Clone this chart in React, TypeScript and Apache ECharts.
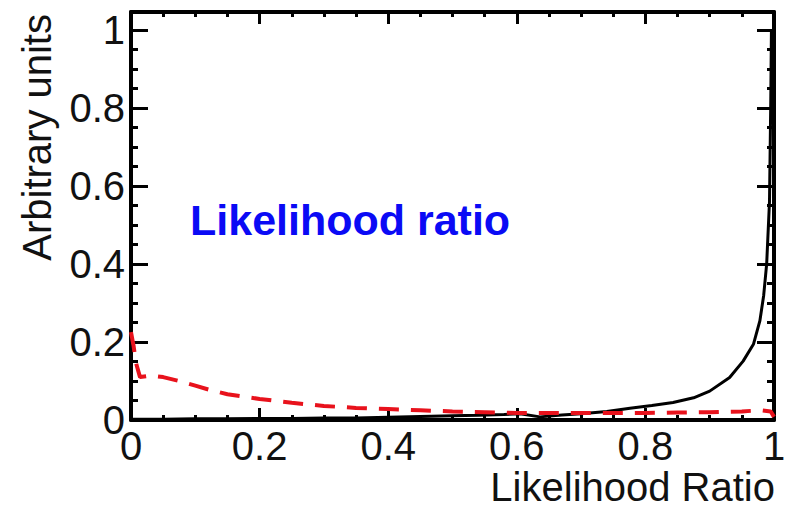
import React, { useEffect, useRef } from "react";
import * as echarts from "echarts";

// Signal (black solid) distribution
const signalX = [0, 0.05, 0.1, 0.15, 0.2, 0.25, 0.3, 0.35, 0.4, 0.45, 0.5, 0.54, 0.58, 0.605, 0.636, 0.67, 0.7, 0.74, 0.776, 0.81, 0.843, 0.875, 0.9, 0.931, 0.952, 0.968, 0.978, 0.984, 0.9886, 0.993, 0.995, 0.996];
const signalY = [0.002, 0.002, 0.003, 0.003, 0.004, 0.004, 0.005, 0.005, 0.007, 0.009, 0.011, 0.012, 0.014, 0.016, 0.008, 0.013, 0.016, 0.022, 0.03, 0.037, 0.045, 0.057, 0.074, 0.109, 0.151, 0.194, 0.254, 0.32, 0.4, 0.56, 0.82, 1.0];

// Background (red dashed) distribution
const backgroundX = [0, 0.004, 0.008, 0.014, 0.03, 0.05, 0.075, 0.1, 0.125, 0.15, 0.2, 0.25, 0.3, 0.35, 0.4, 0.45, 0.5, 0.55, 0.6, 0.65, 0.7, 0.75, 0.8, 0.85, 0.9, 0.95, 0.98, 0.995, 1.0];
const backgroundY = [0.225, 0.19, 0.145, 0.11, 0.114, 0.11, 0.1, 0.088, 0.076, 0.066, 0.054, 0.044, 0.036, 0.031, 0.028, 0.025, 0.022, 0.02, 0.018, 0.018, 0.018, 0.018, 0.018, 0.019, 0.02, 0.022, 0.025, 0.022, 0.008];

const TITLE = "Likelihood ratio";
const X_NAME = "Likelihood Ratio";
const Y_NAME = "Arbitrary units";

const FONT = "'Liberation Sans', Arial, Helvetica, sans-serif";

export default function App() {
  const ref = useRef<HTMLDivElement>(null);
  useEffect(() => {
    const chart = echarts.init(ref.current!, null, { renderer: "svg" });
    const sig = signalX.map((x, i) => [x, signalY[i]]);
    const bkg = backgroundX.map((x, i) => [x, backgroundY[i]]);
    const axisLine = { show: true, onZero: false, lineStyle: { color: "#000", width: 4 } };
    const xCommon = {
      type: "value",
      min: 0,
      max: 1,
      interval: 0.2,
      axisLine,
      splitLine: { show: false },
      axisTick: { show: true, inside: true, length: 12, lineStyle: { color: "#000", width: 3 } },
      minorTick: { show: true, splitNumber: 4, length: 5, lineStyle: { color: "#000", width: 3 } },
    };
    const yCommon = {
      type: "value",
      min: 0,
      max: 1.046,
      interval: 0.2,
      axisLine,
      splitLine: { show: false },
      axisTick: { show: true, inside: true, length: 17, lineStyle: { color: "#000", width: 3 } },
      minorTick: { show: true, splitNumber: 4, length: 7, lineStyle: { color: "#000", width: 3 } },
    };
    chart.setOption({
      animation: false,
      backgroundColor: "#fff",
      grid: { left: 131, right: 17, top: 12, bottom: 89, containLabel: false },
      xAxis: [
        {
          ...xCommon,
          position: "bottom",
          axisLabel: {
            show: true,
            margin: 6,
            color: "#111",
            fontSize: 40,
            fontFamily: FONT,
            formatter: (v: number) => (v === 0 ? "0" : v === 1 ? "1" : String(v)),
          },
        },
        { ...xCommon, position: "top", axisLabel: { show: false } },
      ],
      yAxis: [
        {
          ...yCommon,
          position: "left",
          axisLabel: {
            show: true,
            margin: 6,
            color: "#111",
            fontSize: 40,
            fontFamily: FONT,
            showMaxLabel: false,
            formatter: (v: number) => (Math.abs(v * 5 - Math.round(v * 5)) < 1e-6 ? String(+v.toFixed(1)) : ""),
          },
        },
        { ...yCommon, position: "right", axisLabel: { show: false } },
      ],
      series: [
        {
          type: "line",
          data: sig,
          showSymbol: false,
          symbol: "none",
          lineStyle: { color: "#000", width: 3 },
          z: 3,
        },
        {
          type: "line",
          data: bkg,
          showSymbol: false,
          symbol: "none",
          lineStyle: { color: "#e8121c", width: 4, type: [20, 12] },
          z: 4,
        },
      ],
      graphic: [
        {
          type: "text",
          x: 190,
          y: 220,
          style: {
            text: TITLE,
            fill: "#0a0af5",
            font: `bold 43px ${FONT}`,
            align: "left",
            verticalAlign: "middle",
          },
        },
        {
          type: "text",
          x: 775,
          y: 487,
          style: {
            text: X_NAME,
            fill: "#111",
            font: `40px ${FONT}`,
            align: "right",
            verticalAlign: "middle",
          },
        },
        {
          type: "text",
          x: 37,
          y: 14,
          rotation: Math.PI / 2,
          style: {
            text: Y_NAME,
            fill: "#111",
            font: `40px ${FONT}`,
            align: "right",
            verticalAlign: "middle",
          },
        },
      ],
    });
    return () => chart.dispose();
  }, []);
  return (
    <div
      ref={ref}
      style={{ position: "absolute", left: 0, top: 0, width: 791, height: 509 }}
    />
  );
}
